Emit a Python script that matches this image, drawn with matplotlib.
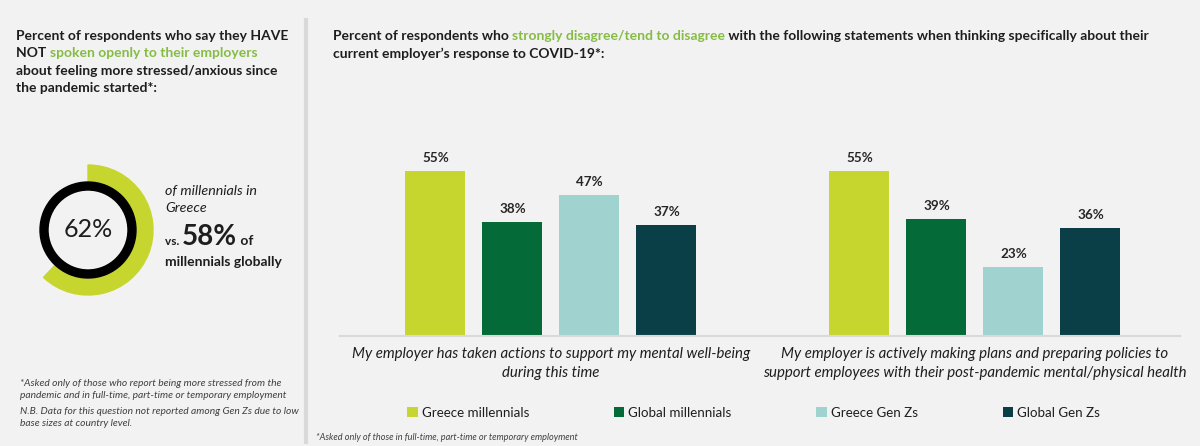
import matplotlib
matplotlib.use("Agg")
import matplotlib.pyplot as plt
import matplotlib.transforms as mtransforms
from matplotlib.patches import Wedge
from matplotlib.lines import Line2D

# ---- data ----
statements = ["My employer has taken actions to support my mental well-being\nduring this time",
              "My employer is actively making plans and preparing policies to\nsupport employees with their post-pandemic mental/physical health"]
series = ["Greece millennials", "Global millennials", "Greece Gen Zs", "Global Gen Zs"]
greece_mill = [55, 55]
global_mill = [38, 39]
greece_genz = [47, 23]
global_genz = [37, 36]
values = [greece_mill, global_mill, greece_genz, global_genz]

greece_not_spoken = 62
global_not_spoken = 58

colors = ['#c6d62f', '#046a38', '#a0d3cf', '#0b3f47']
bg = '#f2f2f2'
dark = '#1e1e1e'
hl = '#86bc45'

W, H = 1200, 446
plt.rcParams['font.family'] = ['Lato', 'DejaVu Sans']

fig = plt.figure(figsize=(W/100, H/100), dpi=100, facecolor=bg)
px = mtransforms.Affine2D().scale(1/W, -1/H).translate(0, 1) + fig.transFigure
rend = fig.canvas.get_renderer()

def rich_line(x, y, parts, weight='bold', style='normal', va='center'):
    # parts: (text, color, size)
    for s, c, size in parts:
        t = fig.text(x, y, s, transform=px, color=c, fontsize=size, fontweight=weight,
                     style=style, va=va, ha='left')
        x = t.get_window_extent(renderer=rend).x1
    return x

# ---- left panel ----
tsize = 10
rich_line(16, 36, [("Percent of respondents who say they HAVE", dark, tsize)])
rich_line(16, 53, [("NOT ", dark, tsize), ("spoken openly to their employers", hl, tsize)])
rich_line(16, 71, [("about feeling more stressed/anxious since", dark, tsize)])
rich_line(16, 88, [("the pandemic started*:", dark, tsize)])

dax = fig.add_axes([(88-70)/W, (H-230-70)/H, 140/W, 140/H])
dax.set_xlim(-70, 70)
dax.set_ylim(-70, 70)
dax.axis('off')
dax.add_patch(Wedge((0, 0), 65, 90 - 360*greece_not_spoken/100, 90, width=16, color=colors[0]))
dax.add_patch(Wedge((0, 0), 48, 0, 360, width=8, color='black'))
dax.text(0, 0, f"{greece_not_spoken}%", ha='center', va='center', fontsize=18, color=dark)

fig.text(165, 191, "of millennials in", transform=px, style='italic', fontsize=10.3, color=dark, va='center')
fig.text(165, 208, "Greece", transform=px, style='italic', fontsize=10.3, color=dark, va='center')
rich_line(165, 245, [("vs. ", dark, 8.5), (f"{global_not_spoken}%", dark, 20), (" of", dark, 10)], va='baseline')
fig.text(165, 262, "millennials globally", transform=px, fontweight='bold', fontsize=10, color=dark, va='center')

foot = '#404040'
fsize = 7.4
fig.text(20, 384, "*Asked only of those who report being more stressed from the", transform=px, style='italic', fontsize=fsize, color=foot, va='center')
fig.text(20, 395, "pandemic and in full-time, part-time or temporary employment", transform=px, style='italic', fontsize=fsize, color=foot, va='center')
fig.text(20, 411, "N.B. Data for this question not reported among Gen Zs due to low", transform=px, style='italic', fontsize=fsize, color=foot, va='center')
fig.text(20, 423, "base sizes at country level.", transform=px, style='italic', fontsize=fsize, color=foot, va='center')

fig.add_artist(Line2D([305.5/W]*2, [1-20/H, 1-442/H], color='#d9d9d9', lw=3))

# ---- right panel ----
rich_line(333, 36, [("Percent of respondents who ", dark, tsize),
                    ("strongly disagree/tend to disagree", hl, tsize),
                    (" with the following statements when thinking specifically about their", dark, tsize)])
rich_line(333, 54, [("current employer\u2019s response to COVID-19*:", dark, tsize)])

ax = fig.add_axes([340/W, (H-336)/H, 840/W, 180/H])
ax.set_xlim(-0.4976, 1.4835)
ax.set_ylim(0, 60)
ax.axis('off')
pitch = 77/424
bw = 60/424
for j, (vals, col, name) in enumerate(zip(values, colors, series)):
    xs = [i + (j-1.5)*pitch for i in range(len(vals))]
    bars = ax.bar(xs, vals, bw, color=col, label=name)
    ax.bar_label(bars, labels=[f"{v}%" for v in vals], padding=5, fontsize=9.7,
                 fontweight='bold', color='#262626')
ax.axhline(0, color='#d9d9d9', lw=1.5, clip_on=False)

lab_tr = mtransforms.blended_transform_factory(ax.transData, px)
for i, s in enumerate(statements):
    ax.text(i, 347, s, transform=lab_tr, ha='center', va='top', style='italic',
            fontsize=10.8, color=dark, linespacing=1.5)

ax.legend(loc='center left', bbox_to_anchor=(407/W, 1-413/H), bbox_transform=fig.transFigure,
          ncol=4, frameon=False, fontsize=9.6, columnspacing=6.35, handlelength=0.8,
          handleheight=0.8, handletextpad=0.3, borderpad=0, borderaxespad=0, labelcolor=dark)

fig.text(316, 437, "*Asked only of those in full-time, part-time or temporary employment", transform=px,
         style='italic', fontsize=6.6, color=foot, va='center')

fig.savefig('out.png', dpi=100, facecolor=bg)
